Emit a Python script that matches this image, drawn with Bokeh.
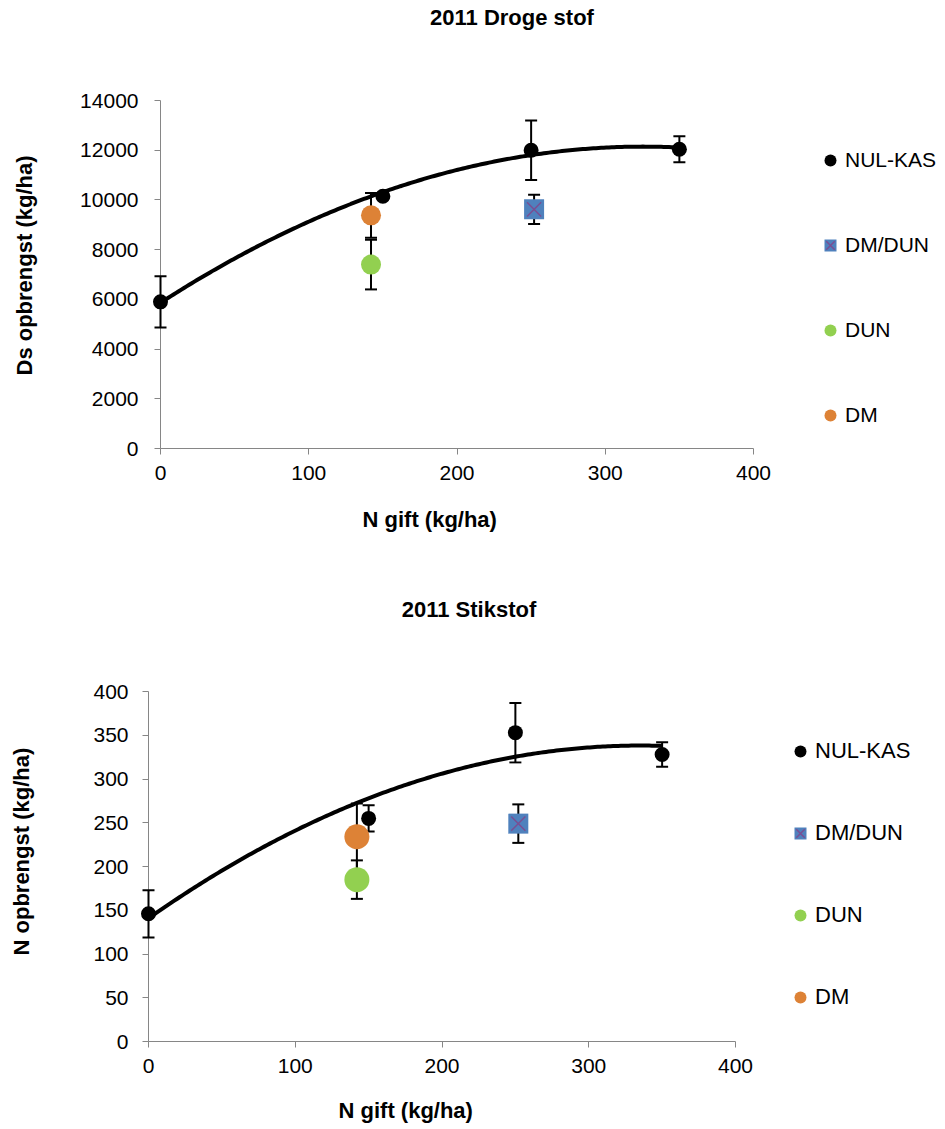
import numpy as np
from bokeh.plotting import figure
from bokeh.models import (Range1d, Whisker, ColumnDataSource, Legend, LegendItem,
                          TeeHead, Label)
from bokeh.embed import file_html
from bokeh.resources import INLINE

# ---------------- data ----------------
series_names = ["NUL-KAS", "DM/DUN", "DUN", "DM"]
x_label = "N gift (kg/ha)"
x_ticks = [0, 100, 200, 300, 400]

# Chart 1: Droge stof
ds_title = "2011 Droge stof"
ds_ylabel = "Ds opbrengst (kg/ha)"
ds_y_ticks = [0, 2000, 4000, 6000, 8000, 10000, 12000, 14000]
ds_nul_x = [0, 150, 250, 350]
ds_nul_y = [5900, 10150, 12000, 12040]
ds_nul_err = [1030, 135, 1200, 520]
ds_dmdun_x = [252]
ds_dmdun_y = [9620]
ds_dmdun_err = [590]
ds_dun_x = [142]
ds_dun_y = [7400]
ds_dun_err = [1000]
ds_dm_x = [142]
ds_dm_y = [9380]
ds_dm_err = [900]

# Chart 2: Stikstof
n_title = "2011 Stikstof"
n_ylabel = "N opbrengst (kg/ha)"
n_y_ticks = [0, 50, 100, 150, 200, 250, 300, 350, 400]
n_nul_x = [0, 150, 250, 350]
n_nul_y = [146, 255, 353, 328]
n_nul_err = [27, 15, 34, 14]
n_dmdun_x = [252]
n_dmdun_y = [249]
n_dmdun_err = [22]
n_dun_x = [142]
n_dun_y = [185]
n_dun_err = [22]
n_dm_x = [142]
n_dm_y = [234]
n_dm_err = [38]

# ---------------- style ----------------
FONT = "Liberation Sans"
AXIS_COL = "#868686"
C_BLACK = "#000000"
C_BLUE = "#4F81BD"
C_X = "#7A4E93"
C_GREEN = "#92D050"
C_ORANGE = "#DD8236"
W = 945


def whisker(p, xs, ys, errs):
    src = ColumnDataSource(dict(x=xs, upper=[y + e for y, e in zip(ys, errs)],
                                lower=[y - e for y, e in zip(ys, errs)]))
    w = Whisker(source=src, base="x", upper="upper", lower="lower",
                line_color="black", line_width=2, level="underlay",
                upper_head=TeeHead(size=12, line_width=2, line_color="black"),
                lower_head=TeeHead(size=12, line_width=2, line_color="black"))
    p.add_layout(w)


def text(p, x, y, s, **kw):
    p.add_layout(Label(x=x, y=y, x_units="screen", y_units="screen", text=s,
                       text_font=FONT, text_font_style="bold", text_font_size="22px",
                       text_color="black", text_baseline="alphabetic", **kw))


def build(g, title, ylabel, y_ticks, nul, dmdun, dun, dm):
    (nx, ny, ne), (sx, sy, se), (gx, gy, ge), (ox, oy, oe) = nul, dmdun, dun, dm
    H = g["height"]
    # the whole figure is the frame; axes sit at fixed data locations
    ux = (g["x1px"] - g["x0px"]) / (x_ticks[-1] - x_ticks[0])
    uy = (g["y0px"] - g["y1px"]) / (y_ticks[-1] - y_ticks[0])
    xr = Range1d(x_ticks[0] - g["x0px"] / ux, x_ticks[-1] + (W - g["x1px"]) / ux)
    yr = Range1d(y_ticks[0] - (H - g["y0px"]) / uy, y_ticks[-1] + g["y1px"] / uy)
    p = figure(width=W, height=H, output_backend="svg", toolbar_location=None,
               x_range=xr, y_range=yr, min_border=0)
    p.outline_line_color = None
    p.grid.visible = False
    p.background_fill_color = "white"
    p.border_fill_color = "white"

    for ax in (p.xaxis[0], p.yaxis[0]):
        ax.level = "image"  # draw axes beneath error bars and markers
        ax.axis_line_color = AXIS_COL
        ax.major_tick_line_color = AXIS_COL
        ax.minor_tick_line_color = None
        ax.major_tick_in = 0
        ax.major_tick_out = 6
        ax.major_label_text_font = FONT
        ax.major_label_text_font_size = g["tick_fs"]
        ax.major_label_text_color = "black"
    p.xaxis.ticker = x_ticks
    p.yaxis.ticker = y_ticks
    p.xaxis.bounds = (x_ticks[0], x_ticks[-1])
    p.yaxis.bounds = (y_ticks[0], y_ticks[-1])
    p.xaxis.fixed_location = y_ticks[0]
    p.yaxis.fixed_location = x_ticks[0]
    p.xaxis.major_label_standoff = g["xstand"]
    p.yaxis.major_label_standoff = g["ystand"]

    text(p, g["title_cx"], H - g["title_base"], title, text_align="center")
    text(p, g["xl_left"], H - g["xl_base"], x_label, text_align="left")
    text(p, g["yl_base"], H - g["yl_start"], ylabel, text_align="left", angle=np.pi / 2)

    # error bars
    whisker(p, nx, ny, ne)
    whisker(p, sx, sy, se)
    whisker(p, gx, gy, ge)
    whisker(p, ox, oy, oe)

    # polynomial (order 2) trendline of NUL-KAS
    coef = np.polyfit(nx, ny, 2)
    xs = np.linspace(min(nx), max(nx), 200)
    p.line(xs, np.polyval(coef, xs), line_color="black", line_width=4)

    r_nul = p.scatter(nx, ny, marker="circle", size=g["ms_black"], fill_color=C_BLACK,
                      line_color=None)
    r_sq = p.scatter(sx, sy, marker="square", size=g["ms_sq"], fill_color=C_BLUE,
                     line_color=None)
    r_x = p.scatter(sx, sy, marker="x", size=g["ms_sq"], line_color=C_X,
                    line_width=1.5)
    r_dun = p.scatter(gx, gy, marker="circle", size=g["ms_col"], fill_color=C_GREEN,
                      line_color=None)
    r_dm = p.scatter(ox, oy, marker="circle", size=g["ms_col"], fill_color=C_ORANGE,
                     line_color=None)

    items = [LegendItem(label=series_names[0], renderers=[r_nul]),
             LegendItem(label=series_names[1], renderers=[r_sq, r_x]),
             LegendItem(label=series_names[2], renderers=[r_dun]),
             LegendItem(label=series_names[3], renderers=[r_dm])]
    leg = Legend(items=items, location=(g["leg_left"], H - g["leg_bottom"]),
                 glyph_width=30, glyph_height=30,
                 spacing=g["leg_spacing"], padding=0, margin=0,
                 label_standoff=0, label_text_color="black",
                 label_text_font=FONT, label_text_font_size=g["leg_fs"],
                 border_line_color=None, background_fill_alpha=0)
    p.add_layout(leg)
    return p


# geometry in figure pixels from the top-left (bottom figure starts at page y = 565)
g1 = dict(height=565, x0px=160, x1px=753, y0px=448, y1px=100,
          tick_fs="21px", xstand=11, ystand=16, ms_black=15, ms_sq=20, ms_col=20,
          leg_left=815, leg_bottom=430, leg_spacing=55, leg_fs="21px",
          title_cx=511.5, title_base=17, xl_left=362, xl_base=519, yl_base=24, yl_start=375)
g2 = dict(height=564, x0px=148, x1px=735, y0px=1041 - 565, y1px=691 - 565,
          tick_fs="21px", xstand=11, ystand=14, ms_black=15, ms_sq=20, ms_col=25,
          leg_left=785, leg_bottom=1012 - 565, leg_spacing=52, leg_fs="22px",
          title_cx=468.5, title_base=609 - 565, xl_left=338, xl_base=1110 - 565,
          yl_base=21, yl_start=955 - 565)

p1 = build(g1, ds_title, ds_ylabel, ds_y_ticks,
           (ds_nul_x, ds_nul_y, ds_nul_err), (ds_dmdun_x, ds_dmdun_y, ds_dmdun_err),
           (ds_dun_x, ds_dun_y, ds_dun_err), (ds_dm_x, ds_dm_y, ds_dm_err))
p2 = build(g2, n_title, n_ylabel, n_y_ticks,
           (n_nul_x, n_nul_y, n_nul_err), (n_dmdun_x, n_dmdun_y, n_dmdun_err),
           (n_dun_x, n_dun_y, n_dun_err), (n_dm_x, n_dm_y, n_dm_err))

open("out.html", "w").write(file_html([p1, p2], INLINE))
